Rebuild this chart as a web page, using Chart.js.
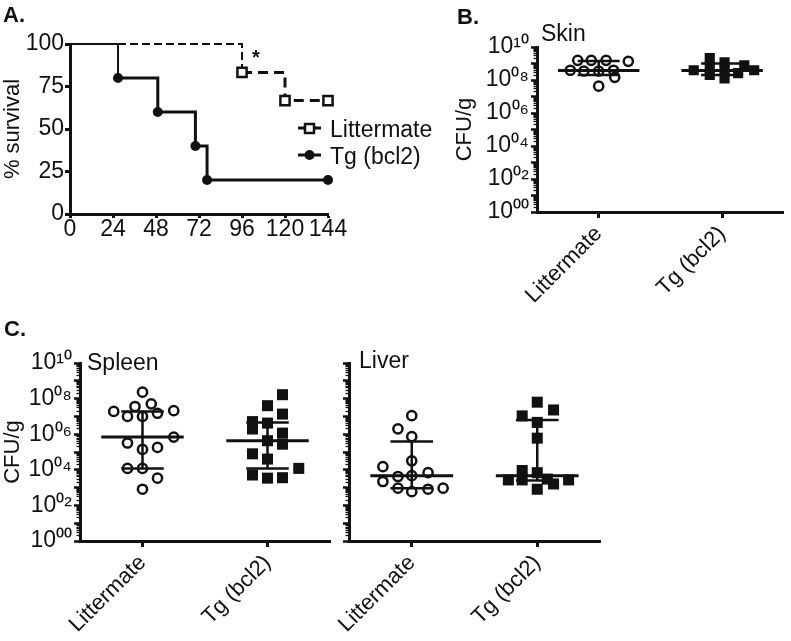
<!DOCTYPE html>
<html><head><meta charset="utf-8">
<script src="https://cdn.jsdelivr.net/npm/chart.js@4.4.1/dist/chart.umd.min.js"></script>
<style>
html,body{margin:0;padding:0;background:#fff;}
body{width:791px;height:641px;position:relative;overflow:hidden;font-family:'Liberation Sans',Arial,sans-serif;color:#111;}
canvas{position:absolute;}
.t{position:absolute;white-space:nowrap;line-height:1.15;font-size:22px;}
.b{font-weight:bold;}
</style></head><body>
<canvas id="cA" width="440" height="250" style="left:0;top:0"></canvas>
<canvas id="cB" width="339" height="330" style="left:452px;top:0"></canvas>
<canvas id="cS" width="340" height="311" style="left:0;top:330px"></canvas>
<canvas id="cL" width="310" height="311" style="left:300px;top:330px"></canvas>
<div class="t b" style="left:3px;top:2px">A.</div>
<div class="t b" style="left:457px;top:4px">B.</div>
<div class="t b" style="left:4px;top:316px">C.</div>
<div class="t" style="left:541px;top:20px;font-size:23px">Skin</div>
<div class="t" style="left:87px;top:349px;font-size:23px">Spleen</div>
<div class="t" style="left:359px;top:347px;font-size:23px">Liver</div>
<div class="t b" style="left:252px;top:46px;font-size:20px">*</div>
<div class="t" style="left:330px;top:116px;font-size:23px">Littermate</div>
<div class="t" style="left:330px;top:143px;font-size:23px">Tg (bcl2)</div>
<script>
// ---------- Panel A: survival ----------
const survTimeLitter = [0, 96, 120, 144];
const survLitter     = [100, 83.3, 66.7, 66.7];
const survTimeTg     = [0, 26.8, 49, 70, 76.5, 144];
const survTg         = [100, 80, 60, 40, 20, 20];
const survTicksX = [0, 24, 48, 72, 96, 120, 144];
const survTicksY = [0, 25, 50, 75, 100];

// ---------- Panels B / C: CFU per gram ----------
const categories = ['Littermate', 'Tg (bcl2)'];
const cfuTickLabels = ['10\u2070\u2070', '10\u2070\u00b2', '10\u2070\u2074', '10\u2070\u2076', '10\u2070\u2078', '10\u00b9\u2070'];

// Skin
const skinLitter    = [1.55e9, 1.55e9, 1.55e9, 1.35e9, 3.9e8, 3.5e8, 3.5e8, 3.9e8, 1.45e8, 4.2e7];
const skinLitterJit = [-0.17, -0.06, 0.06, 0.24, -0.23, -0.12, 0, 0.12, 0.13, 0];
const skinTg        = [3.9e8, 2.1e9, 5.1e8, 1.17e9, 1.26e8, 3.9e8, 2.6e8, 7.8e8, 3.9e8, 2.0e8];
const skinTgJit     = [-0.23, -0.10, -0.10, 0.02, 0.02, 0.02, 0.13, 0.18, 0.26, -0.10];
const skinMedian = [3.8e8, 3.8e8];
const skinQ3     = [1.4e9, 1.0e9];
const skinQ1     = [2.0e8, 2.0e8];

// Spleen
const spleenLitter    = [2.3e8, 1.9e7, 3.6e7, 5.1e7, 2.1e7, 1.0e7, 1.0e7, 1.5e7, 6.9e5, 3.2e5, 1.4e5, 1.8e5, 1.2e4, 1.2e4, 3.4e3, 8.1e2];
const spleenLitterJit = [0, -0.23, -0.06, 0.07, 0.25, -0.12, 0, 0.12, 0.25, -0.12, 0, 0.12, -0.12, 0, 0.12, 0];
const spleenTg        = [1.66e8, 4.0e7, 1.35e7, 5.1e6, 4.2e6, 1.95e6, 1.15e6, 4.3e5, 2.75e5, 7.9e4, 4.0e4, 1.2e4, 5.1e3, 3.4e3, 3.6e3];
const spleenTgJit     = [0.12, 0, 0.12, -0.12, 0, -0.12, 0.12, 0, 0.12, -0.12, 0, 0.25, -0.12, 0, 0.12];
const spleenMedian = [6.9e5, 4.3e5];
const spleenQ3     = [1.9e7, 4.6e6];
const spleenQ1     = [1.2e4, 1.2e4];

// Liver
const liverLitter    = [1.1e7, 2.0e6, 7.4e5, 3.2e4, 1.5e4, 4.2e3, 4.7e3, 6.9e3, 2.2e3, 9.3e2, 5.9e2, 8.1e2, 9.3e2];
const liverLitterJit = [0, -0.11, 0, 0, -0.23, -0.11, 0, 0.13, -0.23, -0.11, 0, 0.13, 0.25];
const liverTg        = [6.3e7, 2.3e7, 1.07e7, 4.6e6, 6.0e5, 9.1e3, 6.9e3, 2.7e3, 2.7e3, 3.0e3, 1.6e3, 2.7e3, 8.1e2];
const liverTgJit     = [0, 0.13, -0.12, 0, 0, -0.12, 0, -0.23, -0.12, 0.08, 0.13, 0.25, 0];
const liverMedian = [4.6e3, 4.6e3];
const liverQ3     = [3.9e5, 6.3e6];
const liverQ1     = [9.3e2, 2.5e3];

const INK = '#111';
const FONT = "'Liberation Sans', Arial, sans-serif";
Chart.defaults.font.family = FONT;
Chart.defaults.color = INK;
Chart.defaults.animation = false;

// ---------- Panel A ----------
const legendA = {
  id: 'legendA',
  afterDraw(chart) {
    const ctx = chart.ctx;
    ctx.save();
    ctx.strokeStyle = INK; ctx.lineWidth = 3;
    ctx.beginPath(); ctx.moveTo(298, 128); ctx.lineTo(321, 128); ctx.stroke();
    ctx.fillStyle = '#fff'; ctx.lineWidth = 2.5;
    ctx.fillRect(305, 124, 9, 9); ctx.strokeRect(305, 124, 9, 9);
    ctx.lineWidth = 3;
    ctx.beginPath(); ctx.moveTo(298, 155); ctx.lineTo(321, 155); ctx.stroke();
    ctx.fillStyle = INK;
    ctx.beginPath(); ctx.arc(309.5, 155, 5, 0, Math.PI * 2); ctx.fill();
    ctx.restore();
  }
};

new Chart(document.getElementById('cA'), {
  type: 'line',
  data: {
    datasets: [
      {
        data: survTimeTg.map((t, i) => ({x: t, y: survTg[i]})),
        stepped: 'before', borderColor: INK, borderWidth: 3, fill: false, clip: false,
        segment: { borderWidth: c => c.p0DataIndex === 0 ? 2 : 3 },
        pointStyle: 'circle', pointRadius: survTg.map((v, i) => i === 0 ? 0 : 5),
        pointBackgroundColor: INK, pointBorderColor: INK, pointBorderWidth: 0
      },
      {
        data: survTimeLitter.map((t, i) => ({x: t, y: survLitter[i]})),
        stepped: 'before', borderColor: INK, borderWidth: 3, fill: false, clip: false,
        segment: {
          borderWidth: c => c.p0DataIndex === 0 ? 2 : 3,
          borderDash: c => c.p0DataIndex === 0 ? [8, 4] : [10, 6]
        },
        pointStyle: 'rect', pointRadius: survLitter.map((v, i) => i === 0 ? 0 : 6.5),
        pointBackgroundColor: '#fff', pointBorderColor: INK, pointBorderWidth: 2.5
      }
    ]
  },
  options: {
    responsive: false,
    layout: { padding: { top: 44, right: 112, bottom: 0, left: 0 } },
    plugins: { legend: { display: false }, tooltip: { enabled: false } },
    scales: {
      x: {
        type: 'linear', min: 0, max: 144,
        afterBuildTicks: s => { s.ticks = survTicksX.map(v => ({value: v})); },
        ticks: { font: { size: 23 }, padding: -2, maxRotation: 0, autoSkip: false, color: INK },
        grid: { drawOnChartArea: false, tickLength: 4, tickWidth: 3, tickColor: INK },
        border: { width: 3, color: INK },
        afterFit: s => { s.height = 36; }
      },
      y: {
        type: 'linear', min: 0, max: 100,
        afterBuildTicks: s => { s.ticks = survTicksY.map(v => ({value: v})); },
        ticks: { font: { size: 23 }, padding: 1, autoSkip: false, color: INK },
        grid: { drawOnChartArea: false, tickLength: 5, tickWidth: 3, tickColor: INK },
        border: { width: 3, color: INK },
        title: { display: true, text: '% survival', font: { size: 22 }, padding: 0, color: INK },
        afterFit: s => { s.width = 70; }
      }
    }
  },
  plugins: [legendA]
});

// ---------- dot plot helper ----------
function isDecade(v) { const e = Math.log10(v); return Math.abs(e - Math.round(e)) < 1e-6; }
function isWholeSignificand(v) {
  const m = v / Math.pow(10, Math.floor(Math.log10(v) + 1e-9));
  return Math.abs(m - Math.round(m)) < 1e-6;
}

function segDs(pts, w) {
  return { type: 'line', data: pts, showLine: true, borderColor: INK, borderWidth: w,
           pointRadius: 0, fill: false, spanGaps: false };
}

function dotChart(id, opt) {
  const datasets = [];
  [0, 1].forEach(g => {
    const med = opt.median[g], q3 = opt.q3[g], q1 = opt.q1[g];
    datasets.push(segDs([{x: g - 0.33, y: med}, {x: g + 0.33, y: med}], 3));
    datasets.push(segDs([{x: g - 0.17, y: q3}, {x: g + 0.17, y: q3}], 2.5));
    datasets.push(segDs([{x: g - 0.17, y: q1}, {x: g + 0.17, y: q1}], 2.5));
    datasets.push(segDs([{x: g, y: q3}, {x: g, y: q1}], 2.5));
  });
  datasets.push({
    type: 'scatter',
    data: opt.lit.map((v, i) => ({x: 0 + opt.litJit[i], y: v})),
    pointStyle: 'circle', pointRadius: 4.6, pointBorderWidth: 2.5,
    pointBorderColor: INK, pointBackgroundColor: 'rgba(255,255,255,0)'
  });
  datasets.push({
    type: 'scatter',
    data: opt.tg.map((v, i) => ({x: 1 + opt.tgJit[i], y: v})),
    pointStyle: 'rect', pointRadius: opt.sq, pointBorderWidth: 0,
    pointBorderColor: INK, pointBackgroundColor: INK
  });
  return new Chart(document.getElementById(id), {
    type: 'scatter',
    data: { datasets },
    options: {
      responsive: false,
      layout: { padding: opt.padding },
      plugins: { legend: { display: false }, tooltip: { enabled: false } },
      scales: {
        x: {
          type: 'linear', min: -0.5, max: 1.5,
          afterBuildTicks: s => { s.ticks = categories.map((c, i) => ({value: i})); },
          ticks: { callback: v => categories[v] ?? '', minRotation: 45, maxRotation: 45,
                   autoSkip: false, font: { size: 22 }, padding: 3, color: INK },
          grid: { drawOnChartArea: false, tickLength: 6, tickWidth: 3, tickColor: INK },
          border: { width: 3, color: INK },
          afterFit: s => { s.height = opt.xh; }
        },
        y: {
          type: 'logarithmic', min: 1, max: 1e10, weight: 1,
          afterBuildTicks: s => { s.ticks = s.ticks.filter(t => isDecade(t.value)); },
          ticks: {
            autoSkip: false, font: { size: 23 }, padding: 2, color: INK,
            callback: v => {
              if (!opt.labels || !isDecade(v)) return '';
              const e = Math.round(Math.log10(v));
              return e % 2 === 0 ? cfuTickLabels[e / 2] : '';
            }
          },
          grid: { drawOnChartArea: false, tickLength: 6, tickColor: INK, tickWidth: 2.5 },
          border: { width: 3, color: INK },
          title: { display: !!opt.title, text: opt.title || '', font: { size: 22 }, padding: 0, color: INK },
          afterFit: s => { s.width = opt.yw; }
        },
        yMinor: {
          type: 'logarithmic', position: 'left', min: 1, max: 1e10, weight: 0,
          afterBuildTicks: s => { s.ticks = s.ticks.filter(t => !isDecade(t.value) && isWholeSignificand(t.value)); },
          ticks: { autoSkip: false, callback: () => '' },
          grid: { drawOnChartArea: false, tickLength: 3.5, tickColor: INK, tickWidth: 1.3 },
          border: { display: false },
          afterFit: s => { s.width = 0; }
        }
      }
    }
  });
}

dotChart('cB', { lit: skinLitter, litJit: skinLitterJit, tg: skinTg, tgJit: skinTgJit,
  median: skinMedian, q3: skinQ3, q1: skinQ1, sq: 7.2,
  padding: { top: 47, right: 3, bottom: 0, left: 0 }, xh: 118, yw: 85, labels: true, title: 'CFU/g' });

dotChart('cS', { lit: spleenLitter, litJit: spleenLitterJit, tg: spleenTg, tgJit: spleenTgJit,
  median: spleenMedian, q3: spleenQ3, q1: spleenQ1, sq: 7.8,
  padding: { top: 33, right: 10, bottom: 0, left: 0 }, xh: 100, yw: 80, labels: true, title: 'CFU/g' });

dotChart('cL', { lit: liverLitter, litJit: liverLitterJit, tg: liverTg, tgJit: liverTgJit,
  median: liverMedian, q3: liverQ3, q1: liverQ1, sq: 7.8,
  padding: { top: 33, right: 10, bottom: 0, left: 0 }, xh: 100, yw: 49, labels: false, title: '' });
</script>
</body></html>
